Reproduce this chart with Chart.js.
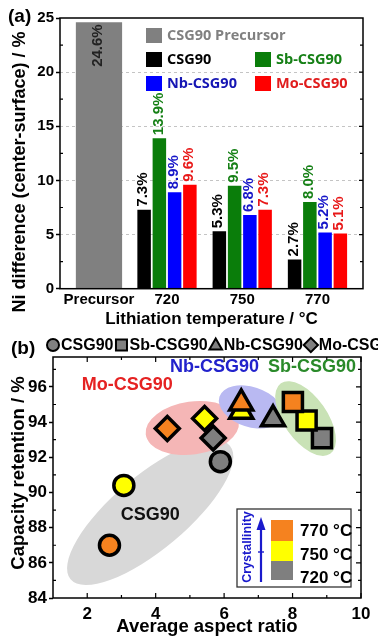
<!DOCTYPE html>
<html><head><meta charset="utf-8">
<script src="https://cdn.jsdelivr.net/npm/chart.js@4.4.1/dist/chart.umd.min.js"></script>
<style>
html,body{margin:0;padding:0;background:#fff;width:378px;height:639px;overflow:hidden}
#wa{position:absolute;left:0;top:0;width:378px;height:332px}
#wb{position:absolute;left:0;top:332px;width:378px;height:307px}
</style></head><body>
<div id="wa"><canvas id="ca"></canvas></div>
<div id="wb"><canvas id="cb"></canvas></div>
<script>
// ---------------- Panel (a) data ----------------
const categoriesA = ['Precursor', '720', '750', '770'];
const precursorValues = [24.6, null, null, null];
const csg90Values = [null, 7.3, 5.3, 2.7];
const sbValues = [null, 13.9, 9.5, 8.0];
const nbValues = [null, 8.9, 6.8, 5.2];
const moValues = [null, 9.6, 7.3, 5.1];
const seriesNamesA = ['CSG90 Precursor', 'CSG90', 'Sb-CSG90', 'Nb-CSG90', 'Mo-CSG90'];
const yTicksA = [0, 5, 10, 15, 20, 25];

// ---------------- Panel (b) data ----------------
const temperaturesB = ['720', '750', '770'];
const seriesNamesB = ['CSG90', 'Sb-CSG90', 'Nb-CSG90', 'Mo-CSG90'];
const csg90Aspect = [5.89, 3.07, 2.65];
const csg90Retention = [91.75, 90.4, 87.0];
const sbAspect = [8.86, 8.41, 8.01];
const sbRetention = [93.09, 94.09, 95.14];
const nbAspect = [7.43, 6.5, 6.5];
const nbRetention = [94.17, 94.6, 95.07];
const moAspect = [5.68, 5.43, 4.34];
const moRetention = [93.09, 94.21, 93.64];
const xTicksB = [2, 4, 6, 8, 10];
const yTicksB = [84, 86, 88, 90, 92, 94, 96];
const groupLabelsB = ['Mo-CSG90', 'Nb-CSG90', 'Sb-CSG90', 'CSG90'];

// ---------------- styling ----------------
const FONT = '"Liberation Sans", Arial, sans-serif';
const barColorsA = ['#808080', '#000000', '#0a7d0a', '#0000ff', '#ff0000'];
const textColorsA = ['#222222', '#000000', '#168016', '#1616c8', '#e81818'];
const legendTextColorsA = ['#808080', '#000000', '#168016', '#1616b4', '#e01c1c'];
const xPosA = [0.096, 1, 2, 3]; // layout position of each category on the x axis
const tempColors = ['#7f7f7f', '#ffff00', '#f5821f'];

function ptsA(vals) { return vals.map((v, i) => ({x: xPosA[i], y: v})); }
function ptsB(xs, ys) { return xs.map((x, i) => ({x: x, y: ys[i]})); }

function rotatedTitle(ctx, text, x, y, size) {
  ctx.save();
  ctx.translate(x, y); ctx.rotate(-Math.PI / 2);
  ctx.fillStyle = '#000'; ctx.font = 'bold ' + size + 'px ' + FONT;
  ctx.textAlign = 'center'; ctx.textBaseline = 'middle';
  ctx.fillText(text, 0, 0);
  ctx.restore();
}

// ---------------- plugins (a) ----------------
const frameA = {
  id: 'frameA',
  afterDraw(chart) {
    const {ctx, chartArea: a, scales} = chart;
    const y = scales.y;
    ctx.save();
    ctx.strokeStyle = '#000'; ctx.lineWidth = 1.5;
    ctx.strokeRect(a.left, a.top, a.right - a.left, a.bottom - a.top);
    ctx.lineWidth = 1.2;
    ctx.beginPath();
    for (let v = 2.5; v < 25; v += 5) {
      const p = y.getPixelForValue(v);
      ctx.moveTo(a.left, p); ctx.lineTo(a.left + 3, p);
      ctx.moveTo(a.right, p); ctx.lineTo(a.right - 3, p);
    }
    for (let v = 5; v < 25; v += 5) {
      const p = y.getPixelForValue(v);
      ctx.moveTo(a.right, p); ctx.lineTo(a.right - 4, p);
    }
    ctx.stroke();
    ctx.fillStyle = '#000'; ctx.font = 'bold 19px ' + FONT;
    ctx.textAlign = 'left'; ctx.textBaseline = 'middle';
    ctx.fillText('(a)', 8, 17);
    ctx.restore();
    rotatedTitle(ctx, 'Ni difference (center-surface) / %', 20, 172, 18);
  }
};
const valueLabelsA = {
  id: 'valueLabelsA',
  afterDatasetsDraw(chart) {
    const ctx = chart.ctx;
    chart.data.datasets.forEach((ds, di) => {
      const meta = chart.getDatasetMeta(di);
      meta.data.forEach((bar, i) => {
        const v = ds.data[i].y;
        if (v === null || v === undefined) return;
        ctx.save();
        ctx.translate(bar.x - 1, di === 0 ? bar.y + 2 : bar.y - 3);
        ctx.rotate(-Math.PI / 2);
        ctx.font = 'bold 15px ' + FONT;
        ctx.fillStyle = textColorsA[di];
        ctx.textAlign = di === 0 ? 'right' : 'left';
        ctx.textBaseline = 'middle';
        ctx.fillText(v.toFixed(1) + '%', 0, 0);
        ctx.restore();
      });
    });
  }
};
const legendA = {
  id: 'legendA',
  afterDraw(chart) {
    const {ctx, chartArea: a} = chart;
    const ds = chart.data.datasets;
    const slots = [[86, 10], [86, 34], [195, 34], [86, 58], [195, 58]];
    ctx.save();
    ctx.font = 'bold 14.5px "Open Sans", ' + FONT;
    ctx.textAlign = 'left'; ctx.textBaseline = 'middle';
    ds.forEach((d, i) => {
      const x = a.left + slots[i][0], y = a.top + slots[i][1];
      ctx.fillStyle = d.backgroundColor;
      ctx.fillRect(x, y, 16, 15);
      ctx.fillStyle = legendTextColorsA[i];
      ctx.fillText(d.label, x + 21, y + 8);
    });
    ctx.restore();
  }
};

const groupBar = {categoryPercentage: 0.897, barPercentage: 0.885, skipNull: true};
new Chart(document.getElementById('ca'), {
  type: 'bar',
  data: {
    datasets: [
      {label: seriesNamesA[0], data: ptsA(precursorValues), backgroundColor: barColorsA[0], categoryPercentage: 0.68, barPercentage: 1, skipNull: true},
      Object.assign({label: seriesNamesA[1], data: ptsA(csg90Values), backgroundColor: barColorsA[1]}, groupBar),
      Object.assign({label: seriesNamesA[2], data: ptsA(sbValues), backgroundColor: barColorsA[2]}, groupBar),
      Object.assign({label: seriesNamesA[3], data: ptsA(nbValues), backgroundColor: barColorsA[3]}, groupBar),
      Object.assign({label: seriesNamesA[4], data: ptsA(moValues), backgroundColor: barColorsA[4]}, groupBar)
    ]
  },
  options: {
    responsive: true, maintainAspectRatio: false, animation: false, devicePixelRatio: 1,
    layout: {padding: {left: 0, right: 15, top: 18, bottom: 0}},
    plugins: {legend: {display: false}, tooltip: {enabled: false}},
    scales: {
      x: {
        type: 'linear', min: -0.422, max: 3.605, offset: false,
        grid: {display: false, drawTicks: false}, border: {display: false},
        afterBuildTicks: s => { s.ticks = xPosA.map(v => ({value: v})); },
        ticks: {callback: (v, i) => categoriesA[i], font: {family: FONT, size: 15, weight: 'bold'}, color: '#000', padding: 2, autoSkip: false, maxRotation: 0},
        title: {display: true, text: 'Lithiation temperature / °C', color: '#000', font: {family: FONT, size: 17, weight: 'bold', lineHeight: 1}, padding: {top: 0, bottom: 4}},
        afterFit: s => { s.height = 43.3; }
      },
      y: {
        type: 'linear', min: 0, max: 25,
        afterBuildTicks: s => { s.ticks = yTicksA.map(v => ({value: v})); },
        grid: {color: c => (c.tick && c.tick.value > 0 && c.tick.value < 25) ? '#c4c4c4' : 'rgba(0,0,0,0)', tickColor: '#000', tickLength: 4, tickWidth: 1.5, lineWidth: 1},
        border: {display: false, dash: [3, 3]},
        ticks: {font: {family: FONT, size: 15, weight: 'bold'}, color: '#000', padding: 2},
        title: {display: false},
        afterFit: s => { s.width = 60; }
      }
    }
  },
  plugins: [frameA, valueLabelsA, legendA]
});

// ---------------- plugins (b) ----------------
const ellipsesB = [
  // [center x (data), center y (data), semi-major px, semi-minor px, rotation deg, colour]
  [3.84, 88.86, 104, 37, -40, '#d8d8d8'],
  [5.07, 93.66, 47, 26.5, -8, '#f5b6b6'],
  [6.78, 94.86, 33, 20, 18, '#b9b9f2'],
  [8.38, 94.2, 43, 21.7, 55, '#c9e2b6']
];
const annotPosB = [[3.17, 96.1], [5.72, 97.14], [8.57, 97.14], [3.84, 88.74]];
const annotColorsB = ['#e52222', '#2222cc', '#2a8a2a', '#111111'];

const backB = {
  id: 'backB',
  beforeDatasetsDraw(chart) {
    const {ctx, scales: {x, y}} = chart;
    ctx.save();
    ellipsesB.forEach(e => {
      ctx.beginPath();
      ctx.ellipse(x.getPixelForValue(e[0]), y.getPixelForValue(e[1]), e[2], e[3], e[4] * Math.PI / 180, 0, Math.PI * 2);
      ctx.fillStyle = e[5];
      ctx.fill();
    });
    ctx.font = 'bold 18px ' + FONT;
    ctx.textAlign = 'center'; ctx.textBaseline = 'middle';
    groupLabelsB.forEach((t, i) => {
      ctx.fillStyle = annotColorsB[i];
      ctx.fillText(t, x.getPixelForValue(annotPosB[i][0]), y.getPixelForValue(annotPosB[i][1]));
    });
    ctx.restore();
  }
};
function marker(ctx, style, cx, cy, r) {
  ctx.beginPath();
  if (style === 'circle') ctx.arc(cx, cy, r, 0, Math.PI * 2);
  else if (style === 'rect') ctx.rect(cx - r, cy - r, 2 * r, 2 * r);
  else if (style === 'triangle') { ctx.moveTo(cx, cy - r * 1.2); ctx.lineTo(cx + r * 1.15, cy + r * 0.8); ctx.lineTo(cx - r * 1.15, cy + r * 0.8); ctx.closePath(); }
  else { ctx.moveTo(cx, cy - r * 1.3); ctx.lineTo(cx + r * 1.3, cy); ctx.lineTo(cx, cy + r * 1.3); ctx.lineTo(cx - r * 1.3, cy); ctx.closePath(); }
  ctx.fill(); ctx.stroke();
}
const frameB = {
  id: 'frameB',
  afterDraw(chart) {
    const {ctx, chartArea: a, scales: {x, y}} = chart;
    ctx.save();
    ctx.strokeStyle = '#000'; ctx.lineWidth = 1.5;
    ctx.strokeRect(a.left, a.top, a.right - a.left, a.bottom - a.top);
    ctx.lineWidth = 1.2;
    ctx.beginPath();
    for (let v = 2; v <= 10; v += 1) {
      const p = x.getPixelForValue(v), L = (v % 2 === 0) ? 5 : 3;
      ctx.moveTo(p, a.bottom); ctx.lineTo(p, a.bottom - L);
      ctx.moveTo(p, a.top); ctx.lineTo(p, a.top + L);
    }
    for (let v = 85; v <= 97; v += 1) {
      const p = y.getPixelForValue(v), L = (v % 2 === 0) ? 5 : 3;
      ctx.moveTo(a.right, p); ctx.lineTo(a.right - L, p);
      if (v % 2 === 1) { ctx.moveTo(a.left, p); ctx.lineTo(a.left + 3, p); }
    }
    ctx.stroke();
    ctx.fillStyle = '#000'; ctx.font = 'bold 19px ' + FONT;
    ctx.textAlign = 'left'; ctx.textBaseline = 'middle';
    ctx.fillText('(b)', 11, 17);
    // top legend
    ctx.font = 'bold 16px ' + FONT;
    let lx = 46;
    chart.data.datasets.forEach(d => {
      ctx.fillStyle = '#808080'; ctx.strokeStyle = '#000'; ctx.lineWidth = 2;
      const st = d.pointStyle;
      const r = st === 'circle' ? 6 : 5.5;
      marker(ctx, st === 'rectRot' ? 'diamond' : st, lx + 7, 13, r);
      ctx.fillStyle = '#000';
      ctx.fillText(d.label, lx + 15, 13.5);
      lx += 15 + ctx.measureText(d.label).width + 1;
    });
    // crystallinity inset
    const bl = a.right - 124, bt = a.bottom - 89;
    ctx.lineWidth = 1.3; ctx.strokeStyle = '#333';
    ctx.strokeRect(bl, bt, 114, 78);
    const sw = [[bt + 11, bt + 32, tempColors[2]], [bt + 32, bt + 52, tempColors[1]], [bt + 52, bt + 71, tempColors[0]]];
    sw.forEach(s => { ctx.fillStyle = s[2]; ctx.fillRect(bl + 34, s[0], 22, s[1] - s[0]); });
    ctx.fillStyle = '#000'; ctx.font = 'bold 17px ' + FONT;
    ctx.textAlign = 'left';
    const labY = [bt + 22, bt + 46, bt + 69];
    [2, 1, 0].forEach((ti, k) => ctx.fillText(temperaturesB[ti] + ' °C', bl + 63, labY[k]));
    ctx.save();
    ctx.translate(bl + 11, bt + 38); ctx.rotate(-Math.PI / 2);
    ctx.fillStyle = '#1a1acc'; ctx.font = 'bold 12.5px ' + FONT;
    ctx.textAlign = 'center'; ctx.fillText('Crystallinity', 0, 0);
    ctx.restore();
    const ax = bl + 24;
    ctx.strokeStyle = '#1a1acc'; ctx.fillStyle = '#1a1acc'; ctx.lineWidth = 2.2;
    ctx.beginPath(); ctx.moveTo(ax, bt + 73); ctx.lineTo(ax, bt + 20); ctx.stroke();
    ctx.beginPath(); ctx.moveTo(ax, bt + 8); ctx.lineTo(ax + 4.5, bt + 21); ctx.lineTo(ax - 4.5, bt + 21); ctx.closePath(); ctx.fill();
    ctx.lineWidth = 1.4;
    ctx.beginPath(); ctx.moveTo(ax - 3, bt + 43); ctx.lineTo(ax + 3, bt + 43); ctx.stroke();
    ctx.restore();
    rotatedTitle(ctx, 'Capacity retention / %', 19, 141, 18.5);
  }
};

const markerBase = {borderColor: '#000', pointBorderWidth: 3.5, pointBackgroundColor: tempColors, pointBorderColor: '#000', clip: false};
new Chart(document.getElementById('cb'), {
  type: 'scatter',
  data: {
    datasets: [
      Object.assign({label: seriesNamesB[0], data: ptsB(csg90Aspect, csg90Retention), pointStyle: 'circle', pointRadius: 10}, markerBase),
      Object.assign({label: seriesNamesB[1], data: ptsB(sbAspect, sbRetention), pointStyle: 'rect', pointRadius: 13.5}, markerBase),
      Object.assign({label: seriesNamesB[2], data: ptsB(nbAspect, nbRetention), pointStyle: 'triangle', pointRadius: 13.3}, markerBase),
      Object.assign({label: seriesNamesB[3], data: ptsB(moAspect, moRetention), pointStyle: 'rectRot', pointRadius: 12}, markerBase)
    ]
  },
  options: {
    responsive: true, maintainAspectRatio: false, animation: false, devicePixelRatio: 1,
    layout: {padding: {left: 0, right: 15, top: 25, bottom: 0}},
    plugins: {legend: {display: false}, tooltip: {enabled: false}},
    scales: {
      x: {
        type: 'linear', min: 1, max: 10,
        afterBuildTicks: s => { s.ticks = xTicksB.map(v => ({value: v})); },
        grid: {display: false, drawTicks: false}, border: {display: false},
        ticks: {font: {family: FONT, size: 17, weight: 'bold'}, color: '#000', padding: 6, maxRotation: 0},
        title: {display: true, text: 'Average aspect ratio', color: '#000', font: {family: FONT, size: 18.5, weight: 'bold', lineHeight: 1}, padding: {top: 0, bottom: 3}},
        afterFit: s => { s.height = 41; }
      },
      y: {
        type: 'linear', min: 84, max: 97.7,
        afterBuildTicks: s => { s.ticks = yTicksB.map(v => ({value: v})); },
        grid: {drawOnChartArea: false, tickColor: '#000', tickLength: 4, tickWidth: 1.5},
        border: {display: false},
        ticks: {font: {family: FONT, size: 17, weight: 'bold'}, color: '#000', padding: 2},
        title: {display: false},
        afterFit: s => { s.width = 53; }
      }
    }
  },
  plugins: [backB, frameB]
});
</script>
</body></html>
